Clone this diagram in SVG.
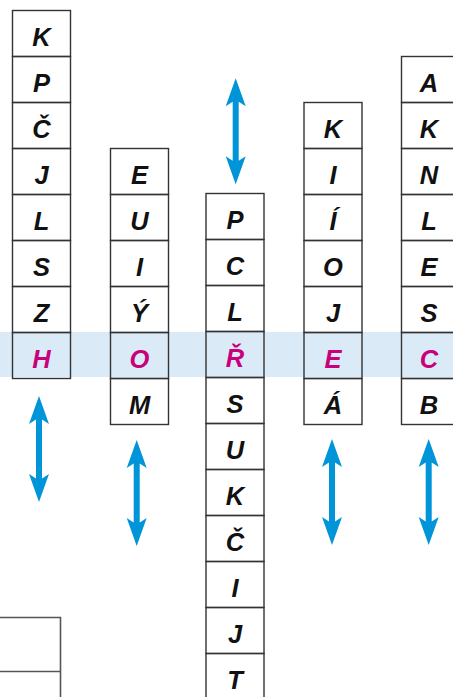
<svg xmlns="http://www.w3.org/2000/svg" width="453" height="697" viewBox="0 0 453 697">
<style>
.cell{fill:none;stroke:#333;stroke-width:1.4}
.t{font-family:"Liberation Sans",Arial,sans-serif;font-weight:bold;font-style:italic;font-size:25.5px;text-anchor:middle;fill:#111}
.h{fill:#C8007B}
.arr{fill:#0095D9}
.gray{fill:none;stroke:#555;stroke-width:1.6}
</style>
<defs>
<path id="dbl" d="M0,0 L10,28 L3,23.5 L3,82.5 L10,78 L0,106 L-10,78 L-3,82.5 L-3,23.5 L-10,28 Z"/>
</defs>
<rect width="453" height="697" fill="#fff"/>
<rect id="band" x="0" y="332" width="453" height="45" fill="#DAEBF7"/>

<g id="col1">
<g id="c1-1"><rect class="cell" x="12.5" y="10.5" width="58" height="46"/><text class="t" x="41.5" y="45.5">K</text></g>
<g id="c1-2"><rect class="cell" x="12.5" y="56.5" width="58" height="46"/><text class="t" x="41.5" y="91.5">P</text></g>
<g id="c1-3"><rect class="cell" x="12.5" y="102.5" width="58" height="46"/><text class="t" x="41.5" y="137.5">Č</text></g>
<g id="c1-4"><rect class="cell" x="12.5" y="148.5" width="58" height="46"/><text class="t" x="41.5" y="183.5">J</text></g>
<g id="c1-5"><rect class="cell" x="12.5" y="194.5" width="58" height="46"/><text class="t" x="41.5" y="229.5">L</text></g>
<g id="c1-6"><rect class="cell" x="12.5" y="240.5" width="58" height="46"/><text class="t" x="41.5" y="275.5">S</text></g>
<g id="c1-7"><rect class="cell" x="12.5" y="286.5" width="58" height="46"/><text class="t" x="41.5" y="321.5">Z</text></g>
<g id="c1-8"><rect class="cell" x="12.5" y="332.5" width="58" height="46"/><text class="t h" x="41.5" y="367.5">H</text></g>
</g>

<g id="col2">
<g id="c2-1"><rect class="cell" x="110.5" y="148.5" width="58" height="46"/><text class="t" x="139.5" y="183.5">E</text></g>
<g id="c2-2"><rect class="cell" x="110.5" y="194.5" width="58" height="46"/><text class="t" x="139.5" y="229.5">U</text></g>
<g id="c2-3"><rect class="cell" x="110.5" y="240.5" width="58" height="46"/><text class="t" x="139.5" y="275.5">I</text></g>
<g id="c2-4"><rect class="cell" x="110.5" y="286.5" width="58" height="46"/><text class="t" x="139.5" y="321.5">Ý</text></g>
<g id="c2-5"><rect class="cell" x="110.5" y="332.5" width="58" height="46"/><text class="t h" x="139.5" y="367.5">O</text></g>
<g id="c2-6"><rect class="cell" x="110.5" y="378.5" width="58" height="46"/><text class="t" x="139.5" y="413.5">M</text></g>
</g>

<g id="col3">
<g id="c3-1"><rect class="cell" x="206" y="193.5" width="58" height="46"/><text class="t" x="235" y="228.5">P</text></g>
<g id="c3-2"><rect class="cell" x="206" y="239.5" width="58" height="46"/><text class="t" x="235" y="274.5">C</text></g>
<g id="c3-3"><rect class="cell" x="206" y="285.5" width="58" height="46"/><text class="t" x="235" y="320.5">L</text></g>
<g id="c3-4"><rect class="cell" x="206" y="331.5" width="58" height="46"/><text class="t h" x="235" y="366.5">Ř</text></g>
<g id="c3-5"><rect class="cell" x="206" y="377.5" width="58" height="46"/><text class="t" x="235" y="412.5">S</text></g>
<g id="c3-6"><rect class="cell" x="206" y="423.5" width="58" height="46"/><text class="t" x="235" y="458.5">U</text></g>
<g id="c3-7"><rect class="cell" x="206" y="469.5" width="58" height="46"/><text class="t" x="235" y="504.5">K</text></g>
<g id="c3-8"><rect class="cell" x="206" y="515.5" width="58" height="46"/><text class="t" x="235" y="550.5">Č</text></g>
<g id="c3-9"><rect class="cell" x="206" y="561.5" width="58" height="46"/><text class="t" x="235" y="596.5">I</text></g>
<g id="c3-10"><rect class="cell" x="206" y="607.5" width="58" height="46"/><text class="t" x="235" y="642.5">J</text></g>
<g id="c3-11"><rect class="cell" x="206" y="653.5" width="58" height="46"/><text class="t" x="235" y="688.5">T</text></g>
</g>

<g id="col4">
<g id="c4-1"><rect class="cell" x="304" y="102.5" width="58" height="46"/><text class="t" x="333" y="137.5">K</text></g>
<g id="c4-2"><rect class="cell" x="304" y="148.5" width="58" height="46"/><text class="t" x="333" y="183.5">I</text></g>
<g id="c4-3"><rect class="cell" x="304" y="194.5" width="58" height="46"/><text class="t" x="333" y="229.5">Í</text></g>
<g id="c4-4"><rect class="cell" x="304" y="240.5" width="58" height="46"/><text class="t" x="333" y="275.5">O</text></g>
<g id="c4-5"><rect class="cell" x="304" y="286.5" width="58" height="46"/><text class="t" x="333" y="321.5">J</text></g>
<g id="c4-6"><rect class="cell" x="304" y="332.5" width="58" height="46"/><text class="t h" x="333" y="367.5">E</text></g>
<g id="c4-7"><rect class="cell" x="304" y="378.5" width="58" height="46"/><text class="t" x="333" y="413.5">Á</text></g>
</g>

<g id="col5">
<g id="c5-1"><rect class="cell" x="401.5" y="56.5" width="60" height="46"/><text class="t" x="429" y="91.5">A</text></g>
<g id="c5-2"><rect class="cell" x="401.5" y="102.5" width="60" height="46"/><text class="t" x="429" y="137.5">K</text></g>
<g id="c5-3"><rect class="cell" x="401.5" y="148.5" width="60" height="46"/><text class="t" x="429" y="183.5">N</text></g>
<g id="c5-4"><rect class="cell" x="401.5" y="194.5" width="60" height="46"/><text class="t" x="429" y="229.5">L</text></g>
<g id="c5-5"><rect class="cell" x="401.5" y="240.5" width="60" height="46"/><text class="t" x="429" y="275.5">E</text></g>
<g id="c5-6"><rect class="cell" x="401.5" y="286.5" width="60" height="46"/><text class="t" x="429" y="321.5">S</text></g>
<g id="c5-7"><rect class="cell" x="401.5" y="332.5" width="60" height="46"/><text class="t h" x="429" y="367.5">C</text></g>
<g id="c5-8"><rect class="cell" x="401.5" y="378.5" width="60" height="46"/><text class="t" x="429" y="413.5">B</text></g>
</g>

<g id="bottom-left">
<path class="gray" d="M-2,617.5 H60.5 V700 M-2,671.5 H60.5"/>
</g>

<g id="arrows">
<use href="#dbl" class="arr" x="39" y="396"/>
<use href="#dbl" class="arr" x="136.7" y="440"/>
<use href="#dbl" class="arr" x="235.7" y="78.3"/>
<use href="#dbl" class="arr" x="332" y="439"/>
<use href="#dbl" class="arr" x="428.7" y="439"/>
</g>
</svg>
